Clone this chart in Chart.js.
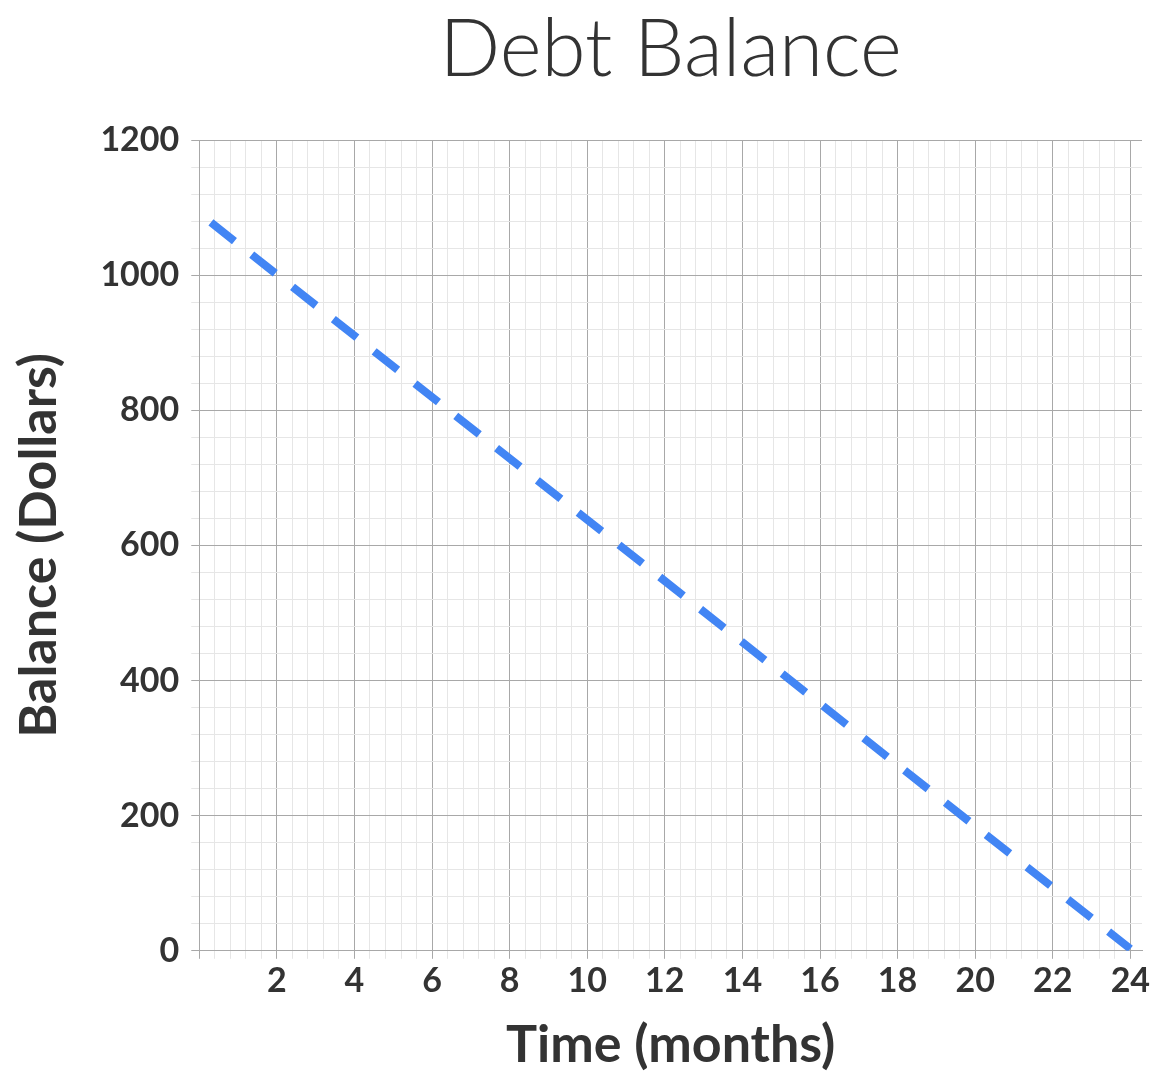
<!DOCTYPE html>
<html>
<head>
<meta charset="utf-8">
<script src="https://cdn.jsdelivr.net/npm/chart.js@4/dist/chart.umd.min.js"></script>
<style>
  html, body { margin: 0; padding: 0; background: #fff; }
  #wrap { width: 1154px; height: 1086px; }
</style>
</head>
<body>
<div id="wrap"><canvas id="debtChart"></canvas></div>
<script>
const chartTitle = 'Debt Balance';
const months = [0.3, 24];
const balance = [1078, 3];
const xTickLabels = [2, 4, 6, 8, 10, 12, 14, 16, 18, 20, 22, 24];
const yTickLabels = [0, 200, 400, 600, 800, 1000, 1200];

const isMajor = (v, step) => Math.abs(v / step - Math.round(v / step)) < 1e-6;

// title centred over the plot area rather than the whole canvas
const centredTitle = {
  id: 'centredTitle',
  afterDraw(chart) {
    const { ctx, chartArea } = chart;
    ctx.save();
    ctx.fillStyle = '#333';
    ctx.font = '300 80px Lato';
    ctx.textAlign = 'center';
    ctx.textBaseline = 'middle';
    ctx.fillText(chartTitle, (chartArea.left + chartArea.right) / 2, 50);
    ctx.restore();
  }
};

const ctx = document.getElementById('debtChart').getContext('2d');
new Chart(ctx, {
  type: 'scatter',
  data: {
    datasets: [{
      data: months.map((m, i) => ({ x: m, y: balance[i] })),
      showLine: true,
      borderColor: '#4285f4',
      borderWidth: 8,
      borderDash: [30, 22],
      pointRadius: 0,
      fill: false
    }]
  },
  plugins: [centredTitle],
  options: {
    responsive: true,
    maintainAspectRatio: false,
    animation: false,
    layout: { padding: { top: 140, right: 12, left: 4, bottom: 6 } },
    plugins: {
      legend: { display: false },
      tooltip: { enabled: false }
    },
    scales: {
      x: {
        type: 'linear',
        min: 0,
        max: 24.3,
        afterBuildTicks: axis => {
          const t = [];
          for (let i = 0; i <= 60; i++) t.push({ value: Math.round(i * 0.4 * 10) / 10 });
          axis.ticks = t;
        },
        ticks: {
          autoSkip: false,
          maxRotation: 0,
          color: '#333',
          font: { family: 'Lato', size: 34, weight: 'bold' },
          padding: 2,
          callback: v => (xTickLabels.includes(v) ? String(v) : '')
        },
        grid: {
          color: c => isMajor(c.tick.value, 2) ? '#a8a8a8' : '#e6e6e6',
          lineWidth: 1,
          tickLength: 8
        },
        border: { color: '#a8a8a8' },
        title: {
          display: true,
          text: 'Time (months)',
          color: '#333',
          font: { family: 'Lato', size: 52, weight: 'bold' },
          padding: { top: 10 }
        }
      },
      y: {
        type: 'linear',
        min: 0,
        max: 1200,
        afterBuildTicks: axis => {
          const t = [];
          for (let i = 0; i <= 30; i++) t.push({ value: i * 40 });
          axis.ticks = t;
        },
        ticks: {
          autoSkip: false,
          color: '#333',
          font: { family: 'Lato', size: 34, weight: 'bold' },
          padding: 12,
          callback: v => (yTickLabels.includes(v) ? String(v) : '')
        },
        grid: {
          color: c => isMajor(c.tick.value, 200) ? '#a8a8a8' : '#e6e6e6',
          lineWidth: 1,
          tickLength: 8
        },
        border: { color: '#a8a8a8' },
        title: {
          display: true,
          text: 'Balance (Dollars)',
          color: '#333',
          font: { family: 'Lato', size: 52, weight: 'bold' },
          padding: { bottom: 18 }
        }
      }
    }
  }
});
</script>
</body>
</html>
